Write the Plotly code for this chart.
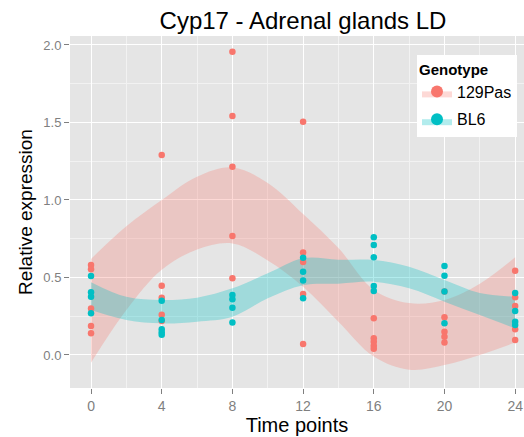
import plotly.graph_objects as go

# --- data -------------------------------------------------------------
time_points = [0, 4, 8, 12, 16, 20, 24]

pas_time = [0]*5 + [4]*5 + [8]*5 + [12]*5 + [16]*5 + [20]*5 + [24]*5
pas_expr = [0.58, 0.553, 0.30, 0.187, 0.14,
            1.29, 0.447, 0.37, 0.26, 0.22,
            1.957, 1.542, 1.215, 0.768, 0.495,
            1.505, 0.662, 0.60, 0.394, 0.071,
            0.237, 0.108, 0.086, 0.06, 0.04,
            0.41, 0.243, 0.15, 0.118, 0.08,
            0.544, 0.372, 0.316, 0.166, 0.097]

bl6_time = [0]*4 + [4]*5 + [8]*4 + [12]*4 + [16]*5 + [20]*4 + [24]*4
bl6_expr = [0.51, 0.405, 0.376, 0.27,
            0.35, 0.226, 0.166, 0.146, 0.13,
            0.387, 0.36, 0.305, 0.21,
            0.628, 0.537, 0.48, 0.366,
            0.759, 0.71, 0.63, 0.445, 0.413,
            0.574, 0.512, 0.41, 0.204,
            0.40, 0.284, 0.215, 0.194]

band_x = [0, 2, 4, 6, 8, 10, 12, 14, 16, 18, 20, 22, 24]
pas_upper = [0.62, 0.83, 1.0, 1.15, 1.21, 1.11, 0.91, 0.69, 0.42, 0.335, 0.355, 0.46, 0.63]
pas_lower = [-0.05, 0.29, 0.55, 0.68, 0.72, 0.61, 0.44, 0.215, -0.01, -0.095, -0.065, 0.0, 0.08]
bl6_upper = [0.47, 0.375, 0.355, 0.37, 0.43, 0.527, 0.624, 0.615, 0.613, 0.57, 0.484, 0.40, 0.376]
bl6_lower = [0.29, 0.226, 0.204, 0.215, 0.247, 0.366, 0.45, 0.46, 0.473, 0.43, 0.344, 0.258, 0.172]

RED = "#F8766D"
CYAN = "#00BFC4"
RED_FILL = "rgba(248,118,109,0.28)"
CYAN_FILL = "rgba(0,191,196,0.30)"

fig = go.Figure()

def ribbon(xs, up, lo, fill):
    fig.add_trace(go.Scatter(x=xs, y=up, mode="lines", line=dict(width=0, shape="spline"),
                             showlegend=False, hoverinfo="skip"))
    fig.add_trace(go.Scatter(x=xs, y=lo, mode="lines", line=dict(width=0, shape="spline"),
                             fill="tonexty", fillcolor=fill, showlegend=False, hoverinfo="skip"))

ribbon(band_x, pas_upper, pas_lower, RED_FILL)
ribbon(band_x, bl6_upper, bl6_lower, CYAN_FILL)

fig.add_trace(go.Scatter(x=pas_time, y=pas_expr, mode="markers", name="129Pas",
                         marker=dict(color=RED, size=6.5), showlegend=False))
fig.add_trace(go.Scatter(x=bl6_time, y=bl6_expr, mode="markers", name="BL6",
                         marker=dict(color=CYAN, size=6.5), showlegend=False))

# legend entries (ribbon key + point)
fig.add_trace(go.Scatter(x=[None], y=[None], mode="markers", name="129Pas",
                         legendgroup="a",
                         fill="toself", fillcolor=RED_FILL, line=dict(width=0),
                         marker=dict(color=RED, size=6.5)))
fig.add_trace(go.Scatter(x=[None], y=[None], mode="markers", name="BL6",
                         legendgroup="b",
                         fill="toself", fillcolor=CYAN_FILL, line=dict(width=0),
                         marker=dict(color=CYAN, size=6.5)))

FONT = "Liberation Sans, Arial, sans-serif"

W, H = 524, 437

fig.update_layout(
    width=W, height=H,
    margin=dict(l=70, r=0, t=36, b=49),
    paper_bgcolor="white",
    plot_bgcolor="#E5E5E5",
    font=dict(family=FONT),
    title=dict(text="Cyp17 - Adrenal glands LD", x=303/W, xanchor="center",
               y=1 - 21/H, yanchor="middle", font=dict(size=24, color="black")),
    legend=dict(x=(417-70)/454, y=(388-55)/352, xanchor="left", yanchor="top",
                bgcolor="white", borderwidth=0, traceorder="grouped", tracegroupgap=4,
                title=dict(text="<b>Genotype</b>", font=dict(size=15, color="black")),
                font=dict(size=16, color="black"), itemsizing="constant"),
    xaxis=dict(range=[-1.19, 24.5], tickvals=time_points, ticktext=[str(t) for t in time_points],
               showgrid=True, gridcolor="white", gridwidth=1.3, zeroline=False,
               ticks="outside", ticklen=5, tickcolor="#7F7F7F", tickwidth=1,
               tickfont=dict(size=14, color="#7F7F7F"),
               minor=dict(dtick=2, tick0=0, showgrid=True, gridcolor="#F2F2F2", gridwidth=0.8),
               title=dict(text="Time points", font=dict(size=20, color="black"), standoff=4),
               showline=False, automargin=False),
    yaxis=dict(range=[-0.213, 2.058], tickvals=[0, 0.5, 1.0, 1.5, 2.0],
               ticktext=["0.0", "0.5", "1.0", "1.5", "2.0"],
               showgrid=True, gridcolor="white", gridwidth=1.3, zeroline=False,
               ticks="outside", ticklen=5, tickcolor="#7F7F7F", tickwidth=1,
               tickfont=dict(size=13, color="#7F7F7F"),
               minor=dict(dtick=0.25, tick0=0, showgrid=True, gridcolor="#F2F2F2", gridwidth=0.8),
               title=dict(text="Relative expression", font=dict(size=19, color="black"), standoff=5),
               showline=False, automargin=False),
)

# remove the default page margin so the 524x437 figure fills the window exactly
fig.write_html("out.html", config={"displayModeBar": False},
               post_script="document.body.style.margin='0';document.body.style.overflow='hidden';")
